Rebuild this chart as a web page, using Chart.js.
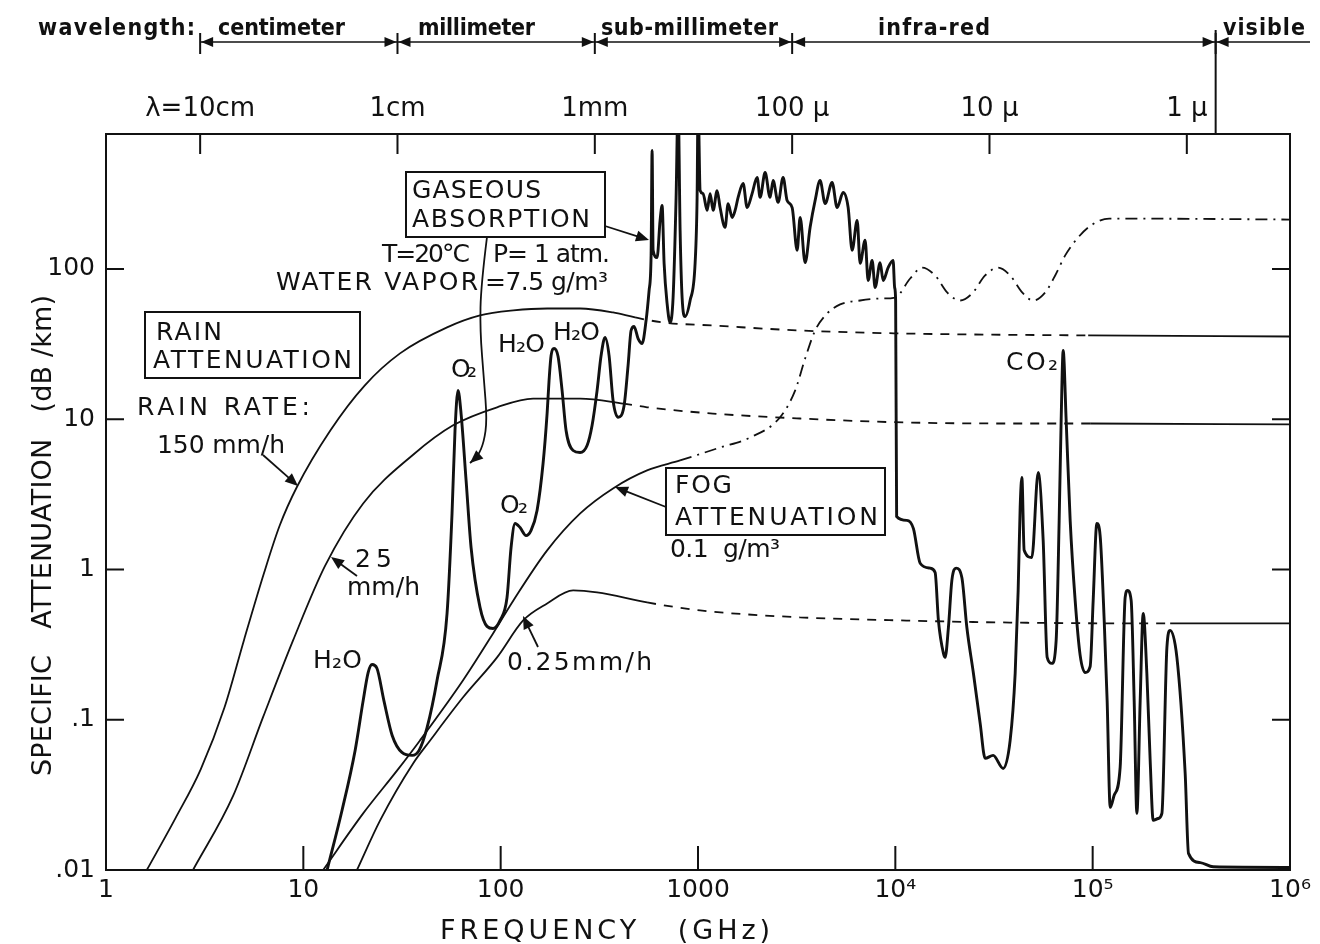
<!DOCTYPE html>
<html>
<head>
<meta charset="utf-8">
<script src="https://cdn.jsdelivr.net/npm/chart.js@4"></script>
<style>
  html, body { margin: 0; padding: 0; background: #fff; }
  #wrap { width: 1320px; height: 944px; position: relative; }
</style>
</head>
<body>
<div id="wrap"><canvas id="c"></canvas></div>
<script>
// ---- axes ----
const FREQ_TICKS = [1, 10, 100, 1000, 1e4, 1e5, 1e6];
const FREQ_TICK_LABELS = ['1', '10', '100', '1000', '10⁴', '10⁵', '10⁶'];
const ATTEN_TICKS = [0.01, 0.1, 1, 10, 100];
const ATTEN_TICK_LABELS = ['.01', '.1', '1', '10', '100'];
const WAVE_TICKS = [3, 30, 300, 3000, 3e4, 3e5];            // GHz for 10cm ... 1 micron
const WAVE_TICK_LABELS = ['λ=10cm', '1cm', '1mm', '100 μ', '10 μ', '1 μ'];
const BAND_EDGES = [3, 30, 300, 3000, 4.2e5];               // GHz
const BAND_NAMES = ['centimeter', 'millimeter', 'sub-millimeter', 'infra-red', 'visible'];

// ---- rain attenuation (GHz, dB/km) ----
const rain150Freq  = [1.61, 2.24, 3.02, 3.98, 5.01, 6.31, 7.59, 9.29, 13.7, 20.5, 30.9, 53.5, 78.6, 116, 172, 253, 371, 480, 666, 1190, 3290, 10600, 94900, 1e6];
const rain150Atten = [0.01, 0.0219, 0.0468, 0.120, 0.341, 0.94, 1.96, 3.55, 8.41, 16.8, 27.4, 40.8, 49.0, 52.9, 54.5, 54.5, 51.3, 47.5, 44.0, 42.0, 38.9, 37.2, 36.1, 35.5];
const rain150Dashed = [480, 94900];

const rain25Freq  = [2.76, 4.40, 6.25, 8.87, 12.9, 20.1, 36.0, 57.4, 95.9, 146, 253, 417, 552, 1190, 3290, 9750, 34000, 97100, 1e6];
const rain25Atten = [0.01, 0.031, 0.104, 0.337, 1.06, 2.75, 5.8, 9.1, 12.0, 13.7, 13.7, 12.7, 12.0, 10.9, 10.1, 9.55, 9.36, 9.36, 9.22];
const rain25Dashed = [417, 97100];

const rain025Freq  = [18.7, 24.5, 36.0, 43.9, 64.5, 95.9, 130, 172, 233, 308, 552, 1025, 3290, 10600, 34000, 247000, 1e6];
const rain025Atten = [0.01, 0.0214, 0.0512, 0.0728, 0.141, 0.260, 0.458, 0.594, 0.725, 0.703, 0.603, 0.534, 0.480, 0.458, 0.444, 0.437, 0.437];
const rain025Dashed = [552, 247000];

// ---- fog attenuation, 0.1 g/m3 ----
const fogFreq  = [12.6, 20.1, 29.9, 39.0, 64.5, 91.5, 116, 172, 253, 371, 552, 811,
                  1294, 1837, 2607, 3105, 3490, 3922, 4511, 5252, 6632, 8375, 9977,
                  11890, 13670, 15910, 18300, 21300, 24500, 28520, 33190, 38180, 43920,
                  49940, 57440, 64570, 72560, 84430, 99420, 121200, 154900, 1e6];
const fogAtten = [0.01, 0.0238, 0.046, 0.0728, 0.183, 0.375, 0.622, 1.34, 2.36, 3.46, 4.56, 5.31,
                  6.48, 7.55, 10.3, 15.5, 25.3, 38.9, 50.5, 58.0, 61.6, 63.5, 64.5,
                  86.3, 102, 90.4, 69.7, 61.6, 68.6, 90.4, 102, 90.4, 69.7,
                  61.6, 69.7, 90.4, 123, 162, 197, 216, 216, 213];
const fogDashDot = [811, 1e6];

// ---- gaseous absorption, T=20C, P=1 atm, water vapour 7.5 g/m3 ----
const gasFreq = [
  13.2, 15.7, 18.3, 20.1, 21.3, 22.3, 23.6, 25.6, 28.2, 31.6,
  35.6, 38.6, 42.4, 47.6, 53.5, 56.7, 58.7, 60.8, 63.0, 66.8,
  70.8, 78.6, 85.3, 91.5, 99.3, 107.7, 112.9, 118.3, 125.4, 134.5,
  142.6, 152.9, 164.0, 171.9, 175.9, 180.1, 186.5, 195.4, 204.8, 214.5,
  232.8, 252.6, 274.1, 290.5, 308.0, 322.8, 338.1, 354.3, 371.2, 393.6,
  422.1, 442.3, 458.0, 474.4, 497.1, 520.8, 545.7, 565.1, 578.5, 585.3,
  592.2, 620.4, 642.5, 657.7, 673.3, 697.2, 722.1, 747.8, 774.5, 792.8,
  811.6, 830.7, 860.2, 912.0, 966.8, 989.5, 1001, 1025, 1061, 1112,
  1152, 1193, 1250, 1294, 1372, 1421, 1489, 1542, 1597, 1693,
  1774, 1880, 1993, 2064, 2188, 2319, 2402, 2547, 2700, 2829,
  3000, 3180, 3293, 3490, 3700, 3922, 4157, 4408, 4782, 5070,
  5438, 5766, 6041, 6405, 6632, 7030, 7280, 7628, 7899, 8375,
  8675, 9194, 9745, 9918, 10035, 10153, 11440, 12350, 13360, 15010,
  15910, 16530, 17530, 17880, 18580, 19340, 20330, 21730, 23040, 24880,
  26910, 28520, 31310, 35190, 38180, 40480, 41920, 42910, 43780, 44960,
  49180, 52950, 56130, 58810, 62120, 65310, 67640, 69230, 70880, 73400,
  76910, 81520, 86430, 91620, 97120, 100600, 105000, 109100, 114400, 118400,
  122700, 128500, 137800, 146100, 150100, 156700, 162300, 167500, 174100, 180300,
  188200, 195600, 202600, 214800, 224300, 237800, 247000, 267200, 294300, 305900,
  350600, 408100, 1000000
];
const gasAtten = [
  0.01, 0.0249, 0.0625, 0.134, 0.206, 0.233, 0.220, 0.134, 0.0786, 0.0606,
  0.0579, 0.0625, 0.0889, 0.183, 0.510, 2.36, 8.41, 15.5, 10.9, 3.91,
  1.40, 0.559, 0.418, 0.405, 0.458, 0.651, 1.40, 2.02, 1.90, 1.68,
  1.82, 2.47, 5.07, 10.9, 18.1, 26.5, 29.5, 26.1, 15.5, 8.41,
  6.19, 6.00, 6.68, 9.08, 15.5, 26.5, 35.0, 26.5, 13.3, 10.3,
  12.3, 22.8, 38.9, 41.4, 34.4, 31.9, 45.4, 71.8, 123, 614,
  133, 119, 210, 264, 109, 58.9, 44.0, 64.5, 299, 1320,
  180, 64.5, 48.2, 61.6, 109, 299, 1320, 332, 317, 245,
  317, 245, 332, 256, 189, 272, 220, 245, 299, 370,
  256, 317, 406, 299, 438, 299, 387, 277, 406, 285,
  256, 133, 220, 110, 189, 285, 387, 272, 376, 256,
  322, 256, 133, 210, 109, 155, 83.7, 114, 75.2, 110,
  83.7, 102, 114, 75.2, 61.6, 2.25, 2.12, 1.87, 1.10, 1.02,
  0.955, 0.458, 0.276, 0.260, 0.411, 0.845, 1.02, 0.885, 0.411, 0.203,
  0.0945, 0.0553, 0.0579, 0.0474, 0.0728, 0.203, 0.725, 2.59, 4.09, 1.34,
  1.20, 4.42, 1.56, 0.260, 0.237, 0.337, 2.12, 9.80, 28.7, 9.80,
  2.12, 0.622, 0.268, 0.206, 0.226, 0.622, 2.02, 1.68, 0.458, 0.134,
  0.0261, 0.0314, 0.0482, 0.651, 0.725, 0.622, 0.134, 0.0238, 0.134, 0.510,
  0.203, 0.0536, 0.0214, 0.0220, 0.0238, 0.303, 0.393, 0.260, 0.0439, 0.0129,
  0.0112, 0.0105, 0.0104
];

// ---- styling ----
const INK = '#111';
const FONT = '"DejaVu Sans", "Noto Sans", sans-serif';
const FONT_COND = '"DejaVu Sans Condensed", "DejaVu Sans", sans-serif';
const DASH = [9, 8];
const DASH_DOT = [12, 6, 2, 6];

function styledRange(range, pattern) {
  return ctx => (ctx.p0.parsed.x >= range[0] * 0.999 && ctx.p1.parsed.x <= range[1] * 1.001) ? pattern : undefined;
}

function series(freq, atten, extra) {
  return Object.assign({
    data: freq.map((f, i) => ({ x: f, y: atten[i] })),
    showLine: true,
    pointRadius: 0,
    borderColor: INK,
    borderWidth: 1.8,
    tension: 0.3,
    cubicInterpolationMode: 'monotone',
    fill: false
  }, extra || {});
}

// ---- drawing helpers for the lettering ----
function fitText(c, text, x, y, w) {
  c.letterSpacing = '0px';
  const n = Array.from(text).length;
  const m = c.measureText(text).width;
  const ls = n > 1 ? (w - m) / (n - 1) : 0;
  c.letterSpacing = ls.toFixed(2) + 'px';
  c.textAlign = 'left';
  c.fillText(text, x, y);
  c.letterSpacing = '0px';
}

function head(c, x, y, ang, L, W) {
  const ca = Math.cos(ang), sa = Math.sin(ang);
  c.beginPath();
  c.moveTo(x, y);
  c.lineTo(x - L * ca + W * sa, y - L * sa - W * ca);
  c.lineTo(x - L * ca - W * sa, y - L * sa + W * ca);
  c.closePath();
  c.fill();
}

function arrow(c, x1, y1, x2, y2) {
  const ang = Math.atan2(y2 - y1, x2 - x1);
  c.beginPath();
  c.moveTo(x1, y1);
  c.lineTo(x2 - Math.cos(ang) * 8, y2 - Math.sin(ang) * 8);
  c.stroke();
  head(c, x2, y2, ang, 13, 5.5);
}

function curveArrow(c, pts) {
  c.beginPath();
  c.moveTo(pts[0][0], pts[0][1]);
  for (let i = 1; i < pts.length - 1; i++) {
    const mx = (pts[i][0] + pts[i + 1][0]) / 2, my = (pts[i][1] + pts[i + 1][1]) / 2;
    c.quadraticCurveTo(pts[i][0], pts[i][1], mx, my);
  }
  const p = pts[pts.length - 1], q = pts[pts.length - 2];
  c.lineTo(p[0], p[1]);
  c.stroke();
  head(c, p[0], p[1], Math.atan2(p[1] - q[1], p[0] - q[0]), 13, 5.5);
}

// arrowhead marking a band boundary on the wavelength strip
function bandHead(c, tipX, y, dir) {
  c.beginPath();
  c.moveTo(tipX, y);
  c.lineTo(tipX + dir * 12, y - 5);
  c.lineTo(tipX + dir * 12, y + 5);
  c.closePath();
  c.fill();
}

// label text: [text, left x, baseline y, width]
const NOTES = [
  ['GASEOUS', 412, 198, 129],
  ['ABSORPTION', 412, 227, 178],
  ['T=20°C', 382, 262, 88],
  ['P= 1 atm.', 493, 262, 117],
  ['WATER VAPOR', 276, 290, 202],
  ['=7.5 g/m³', 485, 290, 123],
  ['RAIN', 156, 340, 66],
  ['ATTENUATION', 153, 368, 199],
  ['RAIN RATE:', 137, 415, 173],
  ['150 mm/h', 157, 453, 128],
  ['25', 355, 567, 37],
  ['mm/h', 347, 595, 73],
  ['O₂', 451, 377, 26],
  ['H₂O', 498, 352, 47],
  ['H₂O', 553, 340, 47],
  ['O₂', 500, 513, 28],
  ['H₂O', 313, 668, 49],
  ['0.25mm/h', 507, 670, 145],
  ['FOG', 675, 493, 57],
  ['ATTENUATION', 675, 525, 203],
  ['0.1  g/m³', 670, 557, 110],
  ['CO₂', 1006, 370, 52]
];
const BOXES = [[406, 172, 605, 237], [145, 312, 360, 378], [666, 468, 885, 535]];
const ARROWS = [[605, 226, 649, 240], [263, 455, 298, 486], [357, 576, 331, 557], [538, 647, 523, 616], [666, 507, 615, 487]];
const LEADER = [[487, 237], [481, 285], [480, 330], [484, 380], [487, 420], [484, 442], [478, 456], [470, 463]];
const BAND_LABEL_X = [218, 418, 601, 878, 1223];
const BAND_LABEL_W = [127, 117, 177, 112, 82];

const paper = {
  id: 'paper',
  beforeDraw(chart) {
    const c = chart.ctx;
    c.save();
    c.fillStyle = '#fff';
    c.fillRect(0, 0, chart.width, chart.height);
    c.restore();
  },
  afterDraw(chart) {
    const c = chart.ctx, a = chart.chartArea;
    const sx = chart.scales.x, sy = chart.scales.y, st = chart.scales.xTop;
    c.save();
    c.strokeStyle = INK;
    c.fillStyle = INK;
    c.textBaseline = 'alphabetic';

    // frame
    c.lineWidth = 2;
    c.strokeRect(a.left, a.top, a.right - a.left, a.bottom - a.top);

    // inward tick marks
    c.beginPath();
    ATTEN_TICKS.slice(1).forEach(v => {
      const y = sy.getPixelForValue(v);
      c.moveTo(a.left, y); c.lineTo(a.left + 18, y);
      c.moveTo(a.right, y); c.lineTo(a.right - 18, y);
    });
    FREQ_TICKS.slice(1, -1).forEach(v => {
      const x = sx.getPixelForValue(v);
      c.moveTo(x, a.bottom); c.lineTo(x, a.bottom - 24);
    });
    WAVE_TICKS.forEach(v => {
      const x = st.getPixelForValue(v);
      c.moveTo(x, a.top); c.lineTo(x, a.top + 20);
    });
    c.stroke();

    // wavelength band strip
    const hy = 42;
    const edges = BAND_EDGES.map(f => st.getPixelForValue(f));
    c.lineWidth = 1.6;
    c.beginPath();
    c.moveTo(edges[0], hy); c.lineTo(chart.width - 10, hy);
    c.stroke();
    c.lineWidth = 2;
    edges.forEach((x, i) => {
      c.beginPath(); c.moveTo(x, hy - 9); c.lineTo(x, hy + 12); c.stroke();
      if (i > 0) bandHead(c, x - 1, hy, -1);
      bandHead(c, x + 1, hy, 1);
    });
    const xv = edges[edges.length - 1];
    c.beginPath(); c.moveTo(xv, hy - 12); c.lineTo(xv, a.top); c.stroke();

    c.font = 'bold 23px ' + FONT_COND;
    fitText(c, 'wavelength:', 38, 35, 157);
    BAND_NAMES.forEach((name, i) => fitText(c, name, BAND_LABEL_X[i], 35, BAND_LABEL_W[i]));

    // axis titles
    c.font = '27px ' + FONT;
    fitText(c, 'FREQUENCY   (GHz)', 440, 939, 330);
    c.save();
    c.translate(51, 776);
    c.rotate(-Math.PI / 2);
    fitText(c, 'SPECIFIC   ATTENUATION   (dB /km)', 0, 0, 481);
    c.restore();

    // boxes, labels, arrows
    c.lineWidth = 2;
    BOXES.forEach(b => c.strokeRect(b[0], b[1], b[2] - b[0], b[3] - b[1]));
    c.font = '25px ' + FONT;
    NOTES.forEach(n => fitText(c, n[0], n[1], n[2], n[3]));
    c.lineWidth = 1.8;
    ARROWS.forEach(p => arrow(c, p[0], p[1], p[2], p[3]));
    curveArrow(c, LEADER);

    c.restore();
  }
};

Chart.defaults.font.family = FONT;
Chart.defaults.color = INK;

new Chart(document.getElementById('c'), {
  type: 'scatter',
  data: {
    datasets: [
      series(rain150Freq, rain150Atten, { label: 'Rain 150 mm/h', segment: { borderDash: styledRange(rain150Dashed, DASH) } }),
      series(rain25Freq, rain25Atten, { label: 'Rain 25 mm/h', segment: { borderDash: styledRange(rain25Dashed, DASH) } }),
      series(rain025Freq, rain025Atten, { label: 'Rain 0.25 mm/h', segment: { borderDash: styledRange(rain025Dashed, DASH) } }),
      series(fogFreq, fogAtten, { label: 'Fog 0.1 g/m3', segment: { borderDash: styledRange(fogDashDot, DASH_DOT) } }),
      series(gasFreq, gasAtten, { label: 'Gaseous absorption', borderWidth: 2.9, tension: 0.15 })
    ]
  },
  options: {
    responsive: true,
    maintainAspectRatio: false,
    animation: false,
    events: [],
    layout: { padding: { left: 0, right: 30, top: 0, bottom: 0 } },
    plugins: { legend: { display: false }, tooltip: { enabled: false } },
    scales: {
      x: {
        type: 'logarithmic', position: 'bottom', min: 1, max: 1e6,
        afterBuildTicks: s => { s.ticks = FREQ_TICKS.map(v => ({ value: v })); },
        afterFit: s => { s.height = 74; },
        grid: { display: false, drawTicks: false },
        border: { display: false },
        ticks: {
          autoSkip: false, maxRotation: 0, minRotation: 0, padding: 5, color: INK,
          font: { family: FONT, size: 25 },
          callback: (v, i) => FREQ_TICK_LABELS[i]
        }
      },
      xTop: {
        type: 'logarithmic', position: 'top', min: 1, max: 1e6,
        afterBuildTicks: s => { s.ticks = WAVE_TICKS.map(v => ({ value: v })); },
        afterFit: s => { s.height = 134; },
        grid: { display: false, drawTicks: false },
        border: { display: false },
        ticks: {
          autoSkip: false, maxRotation: 0, minRotation: 0, padding: 9, color: INK,
          font: { family: FONT, size: 26 },
          callback: (v, i) => WAVE_TICK_LABELS[i]
        }
      },
      y: {
        type: 'logarithmic', position: 'left', min: 0.01, max: 790,
        afterBuildTicks: s => { s.ticks = ATTEN_TICKS.map(v => ({ value: v })); },
        afterFit: s => { s.width = 106; },
        grid: { display: false, drawTicks: false },
        border: { display: false },
        ticks: {
          autoSkip: false, padding: 11, color: INK,
          font: { family: FONT, size: 25 },
          callback: (v, i) => ATTEN_TICK_LABELS[i]
        }
      }
    }
  },
  plugins: [paper]
});
</script>
</body>
</html>
